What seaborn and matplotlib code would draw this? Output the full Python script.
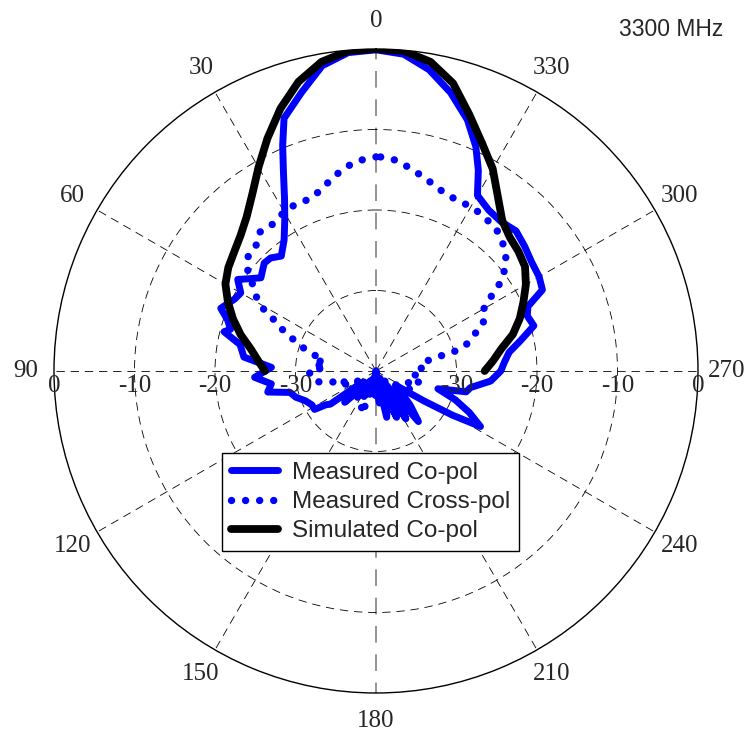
import numpy as np
import pandas as pd
import matplotlib
matplotlib.use("Agg")
import matplotlib.pyplot as plt
import seaborn as sns

# ---------------- data (angles in degrees, counter-clockwise from top; values in dB)
co_deg = [0, 5, 10, 15, 20, 22.5, 25, 28, 31, 35,
          39.5, 43, 46, 51, 54, 56.5, 60, 63, 68, 71,
          74, 75.5, 79, 84, 88, 93, 97, 101, 104, 108,
          113, 118, 122, 124, 126, 128, 131, 135, 140, 145,
          150, 155, 160, 165, 170, 175, 178, 182, 186, 190,
          193, 196, 200, 204, 208, 212, 216, 220, 225, 230,
          234, 238, 240, 242, 246, 250, 254, 257, 260, 265,
          270, 274, 278, 282, 286, 290, 293, 296, 300, 305,
          310, 315, 320, 325, 330, 333, 336, 340, 345, 350,
          355, 360]
co_db = [-0.1, -0.3, -1.5, -4.2, -6.6, -9.7, -12.8, -15.8, -18.0, -20.1,
         -21.5, -20.8, -20.7, -21.6, -20.5, -19.4, -20.6, -20.3, -19.2, -20.5,
         -21.2, -20.5, -22.8, -23.5, -27.0, -24.9, -26.9, -26.3, -29.0, -29.5,
         -30.5, -31.0, -31.0, -32.5, -33.0, -37.0, -36.5, -34.5, -37.0, -36.0,
         -38.5, -36.5, -39.0, -37.0, -38.0, -40.0, -37.0, -40.0, -36.0, -39.0,
         -34.1, -35.0, -38.0, -33.7, -39.0, -33.0, -38.0, -31.8, -34.0, -36.0,
         -37.0, -33.0, -29.0, -25.3, -27.3, -29.5, -32.0, -28.5, -28.1, -25.7,
         -24.5, -24.0, -23.3, -21.6, -19.6, -20.0, -19.5, -17.0, -16.6, -16.4,
         -15.9, -15.4, -15.8, -15.6, -14.8, -12.0, -9.5, -6.8, -4.2, -2.0,
         -0.5, -0.1]

cx_deg = [0, 5, 9, 13, 17, 21, 26, 31, 35, 40,
          44, 48.6, 52, 55, 59, 62, 64, 68, 70, 74,
          78, 83, 86, 90, 95, 100, 104, 108, 112, 118,
          124, 130, 136, 142, 148, 154, 160, 164, 170, 175,
          180, 185, 190, 195, 200, 205, 210, 215, 220, 225,
          230, 235, 240, 245, 250, 254, 258, 262, 266, 271,
          276, 280, 283, 283.5, 286, 290.3, 293.8, 299.3, 302.7, 305.1,
          308.1, 311.5, 315.8, 320.2, 329, 333.5, 338, 342.2, 346, 349.9,
          353.6, 357.6, 360]
cx_db = [-13.4, -13.8, -14.5, -15.5, -16.5, -17.1, -17.0, -17.3, -17.7, -17.5,
         -18.5, -18.7, -19.8, -21.3, -22.8, -24.5, -26.4, -28.0, -29.8, -31.0,
         -33.4, -32.1, -33.8, -31.6, -32.0, -32.3, -34.3, -36.0, -35.0, -37.5,
         -36.5, -38.5, -37.0, -37.5, -39.0, -36.5, -34.4, -35.8, -38.5, -40.0,
         -39.0, -37.0, -38.5, -36.0, -38.0, -37.0, -39.0, -37.6, -38.5, -36.5,
         -36.0, -37.0, -35.5, -34.8, -35.8, -34.3, -35.0, -34.5, -35.5, -34.7,
         -34.0, -34.2, -32.2, -30.3, -28.4, -27.0, -25.4, -24.85, -23.1, -21.3,
         -19.7, -18.45, -17.5, -16.8, -16.4, -16.5, -16.4, -15.9, -15.2, -14.6,
         -13.8, -13.4, -13.4]

sim_deg = [-90, -85, -80, -75, -70, -65, -60, -55, -50, -45,
           -40, -35, -30, -25, -20, -15, -10, -5, 0, 5,
           10, 15, 20, 25, 30, 35, 40, 45, 50, 55,
           60, 65, 70, 75, 80, 85, 90]
sim_db = [-26.5, -25.4, -24.2, -22.4, -21.0, -19.8, -18.5, -17.4, -16.9, -16.5,
          -15.6, -13.6, -11.0, -8.8, -6.1, -3.0, -1.0, -0.1, 0.0, -0.1,
          -1.0, -2.8, -5.3, -8.1, -10.8, -13.2, -15.0, -16.2, -17.0, -17.6,
          -18.4, -19.7, -21.1, -22.6, -24.2, -25.3, -26.2]

theta_ticks = list(range(0, 360, 30))
theta_labels = [str(a) for a in theta_ticks]
r_ticks_db = [0, -10, -20, -30]
r_min_db = -40

assert len(co_deg) == len(co_db)
assert len(cx_deg) == len(cx_db)
assert len(sim_deg) == len(sim_db)

def frame(deg, db):
    return pd.DataFrame({"theta": np.deg2rad(deg),
                         "r": np.clip(np.asarray(db, float) - r_min_db, 0, None)})

sns.set_style("white")
plt.rcParams["font.family"] = ["Liberation Sans", "DejaVu Sans"]

fig = plt.figure(figsize=(7.45, 7.34), dpi=100)
ax = fig.add_axes([54 / 745, 41 / 734, 644 / 745, 644 / 734], projection="polar")
ax.set_theta_zero_location("N")
ax.set_theta_direction(1)
ax.set_ylim(0, -r_min_db)

sns.lineplot(data=frame(co_deg, co_db), x="theta", y="r", ax=ax, sort=False,
             estimator=None, color="#0000ff", linewidth=5.0,
             solid_joinstyle="round", solid_capstyle="round", label="Measured Co-pol")
sns.lineplot(data=frame(cx_deg, cx_db), x="theta", y="r", ax=ax, sort=False,
             estimator=None, color="#0000ff", linewidth=5.3,
             linestyle=(0, (0.01, 1.9)), dash_capstyle="round",
             label="Measured Cross-pol")
sns.lineplot(data=frame(sim_deg, sim_db), x="theta", y="r", ax=ax, sort=False,
             estimator=None, color="black", linewidth=5.6,
             solid_joinstyle="round", solid_capstyle="round", label="Simulated Co-pol")
ax.set_xlabel("")
ax.set_ylabel("")

# grid
ax.set_thetagrids(theta_ticks, labels=[""] * len(theta_ticks))
ax.set_rgrids([t - r_min_db for t in r_ticks_db[1:]], labels=[""] * 3)
ax.grid(True, color="black", linewidth=0.6, linestyle=(0, (10, 7)))
for i, gl in enumerate(ax.xaxis.get_gridlines()):
    if theta_ticks[i] in (0, 180):
        gl.set_color("#808080")
        gl.set_linewidth(1.2)
ax.spines["polar"].set_color("black")
ax.spines["polar"].set_linewidth(1.0)
ax.tick_params(axis="both", length=0)

# angle labels
for a, lab in zip(theta_ticks, theta_labels):
    ax.text(np.deg2rad(a), -r_min_db * 1.088, lab, ha="center", va="center",
            fontsize=18, family="Liberation Serif", clip_on=False)

# radial labels on both horizontal spokes
for db in r_ticks_db:
    for a in (90, 270):
        ax.annotate(str(db), xy=(np.deg2rad(a), db - r_min_db), xytext=(0, -3),
                    textcoords="offset points", ha="center", va="top",
                    fontsize=18, family="Liberation Serif", annotation_clip=False)

leg = ax.legend(loc="upper left", bbox_to_anchor=(222 / 745, 1 - 453 / 734),
                bbox_transform=fig.transFigure, frameon=True, fancybox=False,
                edgecolor="black", framealpha=1, borderaxespad=0,
                prop={"family": "Liberation Sans", "size": 17.5},
                handlelength=1.95, handletextpad=0.58, labelspacing=0.3,
                borderpad=0.36)
leg.get_frame().set_linewidth(1.0)

fig.text(671 / 745, 1 - 29 / 734, "3300 MHz", ha="center", va="center",
         fontsize=16.5, family="Liberation Sans")

fig.savefig("out.png", dpi=100)
